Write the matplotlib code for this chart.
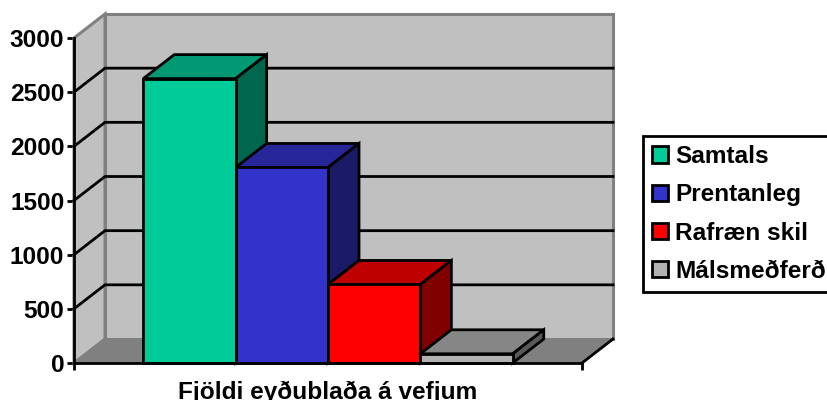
import matplotlib
matplotlib.use('Agg')
import matplotlib.pyplot as plt
from matplotlib.patches import Patch, Polygon

plt.rcParams['font.family'] = ['Liberation Sans', 'DejaVu Sans']

series = ['Samtals', 'Prentanleg', 'Rafræn skil', 'Málsmeðferð']
values = [2625, 1805, 725, 85]
y_ticks = [0, 500, 1000, 1500, 2000, 2500, 3000]
category = 'Fjöldi eyðublaða á vefjum'

front_colors = ['#00CC99', '#3333CC', '#FF0000', '#B2B2B2']
top_colors = ['#009973', '#262699', '#BF0000', '#868686']
side_colors = ['#00664D', '#1A1A66', '#800000', '#595959']

# depth of the fake 3d box, in data units
DX = 31 / 508
DY = 24 / 325 * 3000
BAR_W = 1 / 5.5
WALL = '#C0C0C0'
FLOOR = '#808080'
EDGE = '#808080'
LW = 2.0


def poly(ax, pts, face, edge='black', lw=LW, z=2):
    ax.add_patch(Polygon(pts, closed=True, facecolor=face, edgecolor=edge, linewidth=lw,
                         joinstyle='miter', clip_on=False, zorder=z))


def draw_walls(ax):
    top = y_ticks[-1]
    poly(ax, [(DX, DY), (1 + DX, DY), (1 + DX, top + DY), (DX, top + DY)], WALL, EDGE, 2.2)
    poly(ax, [(0, 0), (DX, DY), (DX, top + DY), (0, top)], WALL, EDGE, 2.2)
    poly(ax, [(0, 0), (1, 0), (1 + DX, DY), (DX, DY)], FLOOR, EDGE, 1.2)
    # right floor edge is black in the original
    ax.plot([1, 1 + DX], [0, DY], color='black', lw=LW, clip_on=False, zorder=2)
    for t in y_ticks[1:-1]:
        ax.plot([0, DX, 1 + DX], [t, t + DY, t + DY], color='black', lw=LW,
                clip_on=False, zorder=2)


def draw_bar(ax, x, h, i):
    poly(ax, [(x, h), (x + BAR_W, h), (x + BAR_W + DX, h + DY), (x + DX, h + DY)], top_colors[i], z=3)
    poly(ax, [(x + BAR_W, 0), (x + BAR_W + DX, DY), (x + BAR_W + DX, h + DY), (x + BAR_W, h)], side_colors[i], z=3)
    poly(ax, [(x, 0), (x + BAR_W, 0), (x + BAR_W, h), (x, h)], front_colors[i], z=3)


fig = plt.figure(figsize=(8.28, 4), dpi=100)
ax = fig.add_axes([74 / 828, 37 / 400, 508 / 828, 325 / 400])
ax.set_xlim(0, 1)
ax.set_ylim(0, y_ticks[-1])
ax.patch.set_visible(False)

draw_walls(ax)
for i, v in enumerate(values):
    draw_bar(ax, BAR_W * 0.75 + i * BAR_W, v, i)

for s in ['top', 'right']:
    ax.spines[s].set_visible(False)
for s in ['left', 'bottom']:
    ax.spines[s].set_linewidth(LW)
    ax.spines[s].set_zorder(5)
ax.set_yticks(y_ticks)
ax.set_xticks([0, 1])
ax.set_xticklabels(['', ''])
ax.tick_params(axis='both', length=5, width=LW, pad=2)
ax.tick_params(axis='y', labelsize=17.6)
for lab in ax.get_yticklabels():
    lab.set_fontweight('bold')
ax.set_xlabel(category, fontsize=17.6, fontweight='bold', labelpad=5.5)

handles = [Patch(facecolor=c, edgecolor='black', linewidth=LW) for c in front_colors]
leg = fig.legend(handles, series, loc='upper left', bbox_to_anchor=(643 / 828, 1 - 136 / 400),
                 bbox_transform=fig.transFigure, borderaxespad=0, fancybox=False, framealpha=1,
                 edgecolor='black', handlelength=0.66, handleheight=0.66, handletextpad=0.28,
                 labelspacing=0.62, borderpad=0.38,
                 prop={'size': 17.6, 'weight': 'bold'})
leg.get_frame().set_linewidth(LW)

fig.savefig('out.png', dpi=100)
